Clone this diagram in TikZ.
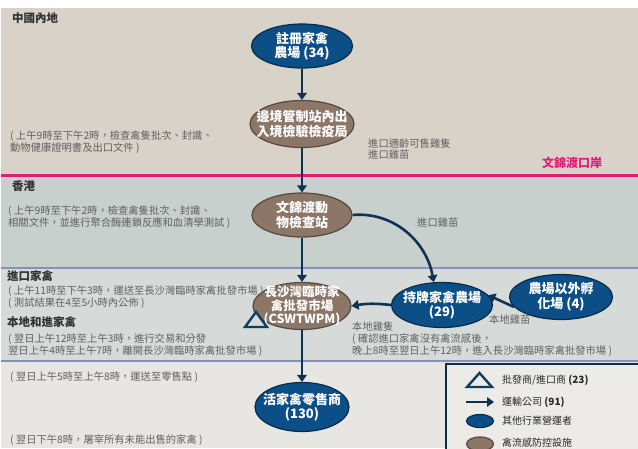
\documentclass[tikz,border=0pt]{standalone}
\usepackage{fontspec}
\setmainfont{Noto Sans CJK TC}
\usetikzlibrary{arrows.meta,shapes.geometric}

\definecolor{bandcn}{RGB}{216,210,201}
\definecolor{bandhk}{RGB}{200,208,205}
\definecolor{bandim}{RGB}{214,219,217}
\definecolor{bandrt}{RGB}{232,230,226}
\definecolor{keybg}{RGB}{237,235,231}
\definecolor{keyedge}{RGB}{22,45,72}
\definecolor{portpink}{RGB}{224,28,120}
\definecolor{sepline}{RGB}{132,146,186}
\definecolor{opblue}{RGB}{11,79,134}
\definecolor{opedge}{RGB}{8,42,72}
\definecolor{ctrlbrown}{RGB}{139,118,103}
\definecolor{ctrledge}{RGB}{88,72,62}
\definecolor{flowblue}{RGB}{15,50,82}
\definecolor{traderblue}{RGB}{14,62,96}
\definecolor{headgray}{RGB}{50,50,50}
\definecolor{notegray}{RGB}{96,96,96}
\definecolor{keygray}{RGB}{40,40,40}

\tikzset{
  operator/.style={ellipse, draw=opedge, fill=opblue, line width=1.2pt, inner sep=0pt},
  control/.style={ellipse, draw=ctrledge, fill=ctrlbrown, line width=1.2pt, inner sep=0pt},
  nodetext/.style={text=white, align=center, inner sep=0pt, font=\bfseries\fontsize{13}{14.5}\selectfont},
  heading/.style={anchor=west, inner sep=0pt, text=headgray, font=\bfseries\fontsize{11.5}{13}\selectfont},
  note/.style={anchor=west, inner sep=0pt, align=left, text=notegray, font=\fontsize{10.3}{11.8}\selectfont},
  keytext/.style={anchor=west, inner sep=0pt, text=keygray, font=\fontsize{10}{12}\selectfont},
  flow/.style={draw=flowblue, line width=2.6pt, -{Triangle[length=7pt,width=9.5pt]}},
  trader/.style={draw=traderblue, line width=2.4pt, fill=bandim, line join=miter},
}

\begin{document}
\begin{tikzpicture}[x=1pt,y=-1pt]
	\useasboundingbox (0,0) rectangle (638,448);

	% regions
	\fill[bandcn] (1,8) rectangle (638,175);
	\fill[bandhk] (1,175) rectangle (638,268);
	\fill[bandim] (1,268) rectangle (638,361);
	\fill[bandrt] (1,361) rectangle (638,448);
	\draw[portpink, line width=2.5pt] (1,175.5) -- (638,175.5);
	\draw[sepline, line width=1.6pt] (1,268) -- (638,268);
	\draw[sepline, line width=1.6pt] (1,361) -- (638,361);

	% legend box
	\fill[keybg] (446,364) rectangle (640,450);
	\draw[keyedge, line width=2pt] (640,364) -- (446,364) -- (446,450);

	% operators and facilities
	\node[operator, minimum width=101, minimum height=44] (reg) at (302,46) {};
	\node[control, minimum width=104, minimum height=47] (bip) at (302,124) {};
	\node[control, minimum width=100, minimum height=44] (wj) at (302,215) {};
	\node[control, minimum width=98, minimum height=47] (cs) at (302,306) {};
	\node[operator, minimum width=101, minimum height=45] (lic) at (442,305) {};
	\node[operator, minimum width=103, minimum height=45] (hat) at (561,297) {};
	\node[operator, minimum width=94, minimum height=49] (rt) at (302,407) {};

	\node[nodetext] (regtext) at (reg) {註冊家禽\\農場 (34)};
	\node[nodetext] (biptext) at (bip) {邊境管制站內出\\入境檢驗檢疫局};
	\node[nodetext] (wjtext) at (wj) {文錦渡動\\物檢查站};
	\node[nodetext, font=\bfseries\fontsize{12.5}{13.5}\selectfont] (cstext) at (cs) {長沙灣臨時家\\禽批發市場\\(CSWTWPM)};
	\node[nodetext] (lictext) at (lic) {持牌家禽農場\\(29)};
	\node[nodetext] (hattext) at (hat) {農場以外孵\\化場 (4)};
	\node[nodetext] (rttext) at (rt) {活家禽零售商\\(130)};

	% wholesaler mark
	\draw[trader] (245,327) -- (256,312) -- (267,327) -- cycle;

	% flows
	\draw[flow] (reg) -- (bip);
	\draw[flow] (bip) -- (wj);
	\draw[flow] (wj) -- (cs);
	\draw[flow] (cs) -- (rt);
	\draw[flow] (wj.east) to[out=5, in=100] (lic.110);
	\draw[flow] (lic.west) to[bend right=8] (cs.east);
	\draw[flow] (hat.192) -- (lic.12);

	% region titles
	\node[heading] (cnhead) at (12,18) {中國內地};
	\node[heading] (hkhead) at (12,186) {香港};
	\node[heading] (imhead) at (7,276) {進口家禽};
	\node[heading] (lohead) at (7,322) {本地和進家禽};
	\node[anchor=west, inner sep=0pt, text=portpink, font=\bfseries\fontsize{12}{14}\selectfont] (port) at (542,163) {文錦渡口岸};

	% notes
	\node[note] (cnnote) at (10,142.5) {( 上午9時至下午2時，檢查禽隻批次、封識、\\動物健康證明書及出口文件 )};
	\node[note] (cnflow) at (368,149) {進口適齡可售雞隻\\進口雞苗};
	\node[note] (hknote) at (8,217.5) {( 上午9時至下午2時，檢查禽隻批次、封識、\\相關文件，並進行聚合酶連鎖反應和血清學測試 )};
	\node[note] (hkflow) at (417,223) {進口雞苗};
	\node[note] (imnote) at (8,297.5) {( 上午11時至下午3時，運送至長沙灣臨時家禽批發市場 )\\( 測試結果在4至5小時內公佈 )};
	\node[note] (lonote) at (8,345.5) {( 翌日上午12時至上午3時，進行交易和分發\\翌日上午4時至上午7時，離開長沙灣臨時家禽批發市場 )};
	\node[note] (chick) at (489,320) {本地雞苗};
	\node[note] (bird) at (352,339) {本地雞隻\\( 確認進口家禽沒有禽流感後，\\晚上8時至翌日上午12時，進入長沙灣臨時家禽批發市場 )};
	\node[note] (rtnote) at (10,377) {( 翌日上午5時至上午8時，運送至零售點 )};
	\node[note] (slnote) at (10,440) {( 翌日下午8時，屠宰所有未能出售的家禽 )};

	% legend
	\draw[trader, fill=keybg] (467,387) -- (479.5,373) -- (492,387) -- cycle;
	\coordinate (keyA) at (466,402);
	\coordinate (keyB) at (494,402);
	\draw[flow] (keyA) -- (keyB);
	\node[operator, minimum width=27, minimum height=13] (keyop) at (480,421) {};
	\node[control, minimum width=27, minimum height=14] (keyctrl) at (480,444) {};

	\node[keytext] (keytrader) at (502,380) {批發商/進口商 \textbf{(23)}};
	\node[keytext] (keyflow) at (502,402) {運輸公司 \textbf{(91)}};
	\node[keytext] (keyoper) at (502,421) {其他行業營運者};
	\node[keytext] (keyfac) at (502,443) {禽流感防控設施};
\end{tikzpicture}
\end{document}
